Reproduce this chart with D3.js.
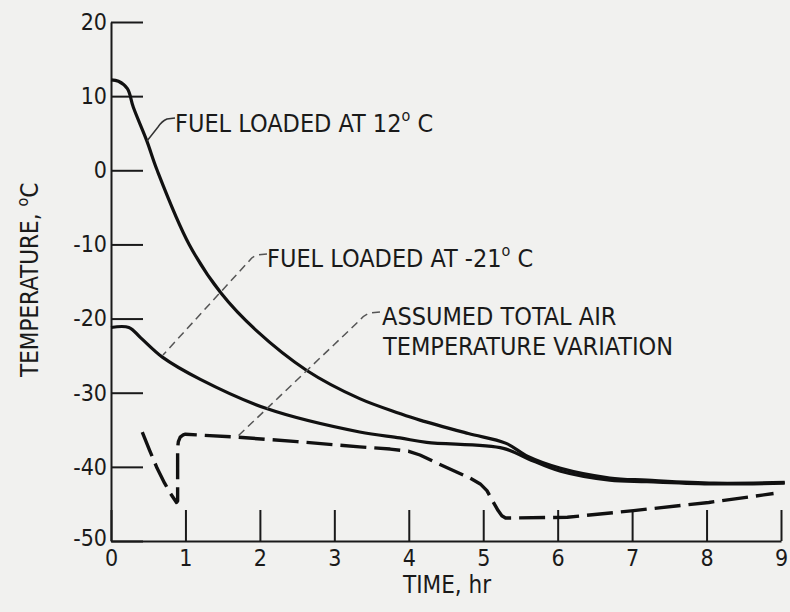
<!DOCTYPE html>
<html>
<head>
<meta charset="utf-8">
<script src="https://cdn.jsdelivr.net/npm/d3@7"></script>
<style>
  body { margin: 0; background: #f1f1ef; }
  svg { display: block; }
  text { font-family: "Liberation Sans Narrow", "DejaVu Sans Condensed", "Roboto Condensed", sans-serif; fill: #1a1a1a; }
</style>
</head>
<body>
<div id="vis"></div>
<script>
// tick values
var x_ticks = [0, 1, 2, 3, 4, 5, 6, 7, 8, 9];
var y_ticks = [20, 10, 0, -10, -20, -30, -40, -50];

// fuel loaded at 12 C
var fuel12_time = [0, 0.1, 0.22, 0.3, 0.48, 0.62, 1.05, 1.48, 1.95, 2.63, 3.34, 3.88, 4.15, 4.8, 5.3, 5.6, 6.04, 6.7, 7.2, 8.1, 9.05];
var fuel12_temp = [12.2, 12.0, 11.0, 8.5, 4.0, 0, -10, -16.6, -21.6, -27, -30.8, -32.8, -33.7, -35.5, -36.8, -38.6, -40.2, -41.5, -41.8, -42.2, -42.1];

// fuel loaded at -21 C
var fuel21_time = [0, 0.24, 0.4, 0.69, 1.2, 2.08, 3.34, 3.88, 4.24, 5.27, 5.6, 6.04, 6.7, 7.2, 8.1, 9.05];
var fuel21_temp = [-21.2, -21.2, -22.6, -25.2, -28.2, -32.1, -35.3, -36.1, -36.7, -37.5, -38.9, -40.6, -41.8, -42.0, -42.3, -42.2];

// assumed total air temperature
var air_time = [0.42, 0.52, 0.62, 0.72, 0.8, 0.88, 0.895, 0.895, 0.905, 0.93, 0.97, 1.0, 1.7, 2.5, 3.34, 3.75, 4.0, 4.15, 4.38, 4.82, 4.96, 5.05, 5.12, 5.2, 5.25, 5.3, 6.13, 7.02, 8.03, 8.9];
var air_temp = [-35.3, -37.8, -40.2, -42.2, -43.6, -44.8, -44.6, -37.4, -36.6, -36.0, -35.7, -35.6, -36.0, -36.6, -37.3, -37.6, -37.9, -38.4, -39.5, -41.5, -42.3, -43.2, -44.5, -45.9, -46.6, -46.9, -46.8, -45.9, -44.8, -43.6];

var width = 790, height = 612;
var svg = d3.select('#vis').append('svg').attr('width', width).attr('height', height);

var x_scale = d3.scaleLinear().domain([0, 9]).range([111, 781]);
var y_scale = d3.scaleLinear().domain([-50, 20]).range([541, 22]);

function pts(t, v) {
  return t.map(function(d, i) { return [d, v[i]]; });
}

var line = d3.line()
  .x(function(d) { return x_scale(d[0]); })
  .y(function(d) { return y_scale(d[1]); })
  .curve(d3.curveCatmullRom.alpha(0.5));
var air_line = d3.line()
  .x(function(d) { return x_scale(d[0]); })
  .y(function(d) { return y_scale(d[1]); })
  .curve(d3.curveLinear);

// axes
var x_axis = d3.axisBottom(x_scale).tickValues(x_ticks).tickSizeInner(-31).tickSizeOuter(0).tickPadding(11).tickFormat(d3.format('d'));
var y_axis = d3.axisLeft(y_scale).tickValues(y_ticks).tickSizeInner(-32).tickSizeOuter(0).tickPadding(4).tickFormat(function(d) { return d < 0 ? '-' + Math.abs(d) : d; });

var gx = svg.append('g').attr('transform', 'translate(0,' + y_scale(-50) + ')').call(x_axis);
var gy = svg.append('g').attr('transform', 'translate(' + x_scale(0) + ',0)').call(y_axis);
[gx, gy].forEach(function(g) {
  g.select('.domain').attr('stroke', '#1a1a1a').attr('stroke-width', 2);
  g.selectAll('.tick line').attr('stroke', '#1a1a1a').attr('stroke-width', 2);
  g.selectAll('.tick text').attr('font-size', 23).attr('font-family', null).attr('fill', '#1a1a1a');
});
gx.selectAll('.tick text').attr('dy', '0.6em');
gy.selectAll('.tick text').filter(function(d) { return d === -50; }).attr('dy', '0.2em');

// axis titles
svg.append('text').attr('x', 403).attr('y', 593).attr('font-size', 24).text('TIME,  hr');
var yl = svg.append('text').attr('transform', 'translate(38,377) rotate(-90)').attr('font-size', 24);
yl.append('tspan').text('TEMPERATURE,  ');
yl.append('tspan').attr('font-size', 16).attr('dy', -10).text('o');
yl.append('tspan').attr('dy', 10).text('C');

// curves
svg.append('path').datum(pts(fuel12_time, fuel12_temp)).attr('d', line)
  .attr('fill', 'none').attr('stroke', '#111').attr('stroke-width', 3.2);
svg.append('path').datum(pts(fuel21_time, fuel21_temp)).attr('d', line)
  .attr('fill', 'none').attr('stroke', '#111').attr('stroke-width', 3.2);
svg.append('path').datum(pts(air_time, air_temp)).attr('d', air_line)
  .attr('fill', 'none').attr('stroke', '#111').attr('stroke-width', 3.4)
  .attr('stroke-linejoin', 'round').attr('stroke-dasharray', '26,8');

// leaders
svg.append('path').attr('d', 'M175,118 L167,119 Q162,121 158,127 L147,141')
  .attr('fill', 'none').attr('stroke', '#333').attr('stroke-width', 1.5);
svg.append('path').attr('d', 'M267,254 L257,255 Q252,257 250,260 L163,355')
  .attr('fill', 'none').attr('stroke', '#555').attr('stroke-width', 1.5).attr('stroke-dasharray', '8,5');
svg.append('path').attr('d', 'M380,312 L370,313 Q364,315 360,320 L237,437')
  .attr('fill', 'none').attr('stroke', '#555').attr('stroke-width', 1.5).attr('stroke-dasharray', '8,5');

// labels
function label(x, y, main, tail) {
  var t = svg.append('text').attr('x', x).attr('y', y).attr('font-size', 25);
  t.append('tspan').text(main);
  t.append('tspan').attr('font-size', 16).attr('dy', -11).text('o');
  t.append('tspan').attr('dy', 11).text(' ' + tail);
}
label(175, 132, 'FUEL LOADED AT 12', 'C');
label(267, 267, 'FUEL LOADED AT -21', 'C');
svg.append('text').attr('x', 382).attr('y', 325).attr('font-size', 25).text('ASSUMED TOTAL AIR');
svg.append('text').attr('x', 383).attr('y', 355).attr('font-size', 25).text('TEMPERATURE VARIATION');
</script>
</body>
</html>
